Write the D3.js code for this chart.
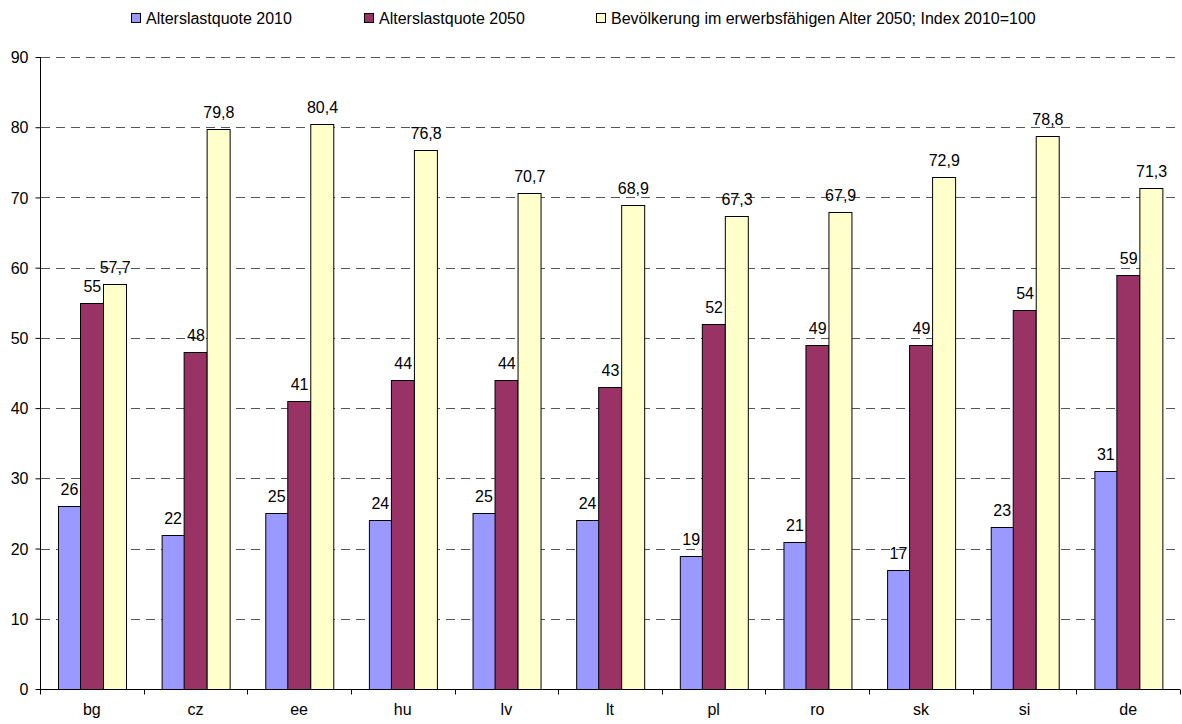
<!DOCTYPE html>
<meta charset="utf-8">
<style>
  body { margin: 0; background: #fff; }
  text { font-family: Arial, "Liberation Sans", sans-serif; fill: #000; }
  .grid line { stroke: #555; stroke-dasharray: 9,6; }
</style>
<svg width="1182" height="724"></svg>
<script src="https://d3js.org/d3.v7.min.js"></script>
<script>

  var categories = ["bg", "cz", "ee", "hu", "lv", "lt", "pl", "ro", "sk", "si", "de"];
  var quote2010 = [26, 22, 25, 24, 25, 24, 19, 21, 17, 23, 31];
  var quote2050 = [55, 48, 41, 44, 44, 43, 52, 49, 49, 54, 59];
  var bevoelkerung2050 = [57.7, 79.8, 80.4, 76.8, 70.7, 68.9, 67.3, 67.9, 72.9, 78.8, 71.3];
  var seriesNames = ["Alterslastquote 2010", "Alterslastquote 2050", "Bevölkerung im erwerbsfähigen Alter 2050; Index 2010=100"];
  var seriesColors = ["#9999ff", "#993366", "#ffffcc"];
  var yTicks = [0, 10, 20, 30, 40, 50, 60, 70, 80, 90];

  var series = [quote2010, quote2050, bevoelkerung2050];

  var svg = d3.select("svg"),
    plotLeft = 40, plotRight = 1180, plotTop = 57, plotBottom = 689;

  var x = d3.scaleBand()
    .domain(categories)
    .range([plotLeft, plotRight]);

  var x1 = d3.scaleBand()
    .domain([0, 1, 2])
    .range([0, x.bandwidth()])
    .paddingOuter(0.765)
    .paddingInner(0);

  var y = d3.scaleLinear()
    .domain([0, 90])
    .range([plotBottom, plotTop]);

  // dashed gridlines
  svg.append("g")
    .attr("class", "grid")
    .selectAll("line")
    .data(yTicks.filter(function (d) { return d > 0; }))
    .enter().append("line")
    .attr("x1", plotLeft + 1).attr("x2", plotRight)
    .attr("y1", function (d) { return Math.round(y(d)) + 0.5; })
    .attr("y2", function (d) { return Math.round(y(d)) + 0.5; });

  // bars
  var fmt = function (v) { return String(v).replace(".", ","); };

  var groups = svg.append("g").selectAll("g")
    .data(categories)
    .enter().append("g")
    .attr("transform", function (d) { return "translate(" + x(d) + ",0)"; });

  groups.each(function (cat, i) {
    var g = d3.select(this);
    series.forEach(function (s, k) {
      var v = s[i];
      g.append("rect")
        .attr("x", Math.round(x1(k)) + 0.5)
        .attr("y", Math.round(y(v)) + 0.5)
        .attr("width", Math.round(x1.bandwidth()))
        .attr("height", Math.round(y(0)) - Math.round(y(v)))
        .attr("fill", seriesColors[k])
        .attr("stroke", "#000")
        .attr("stroke-width", 1);
      g.append("text")
        .attr("x", x1(k) + x1.bandwidth() / 2 + 0.5)
        .attr("y", y(v) - 11)
        .attr("text-anchor", "middle")
        .style("font-size", "16px")
        .text(fmt(v));
    });
  });

  // y axis
  var yAxis = svg.append("g")
    .attr("transform", "translate(" + (plotLeft + 0.5) + ",0)")
    .call(d3.axisLeft(y).tickValues(yTicks).tickSize(5).tickPadding(7));
  yAxis.selectAll("text").style("font-size", "16px").attr("dy", "0.35em");
  yAxis.selectAll("line,path").attr("stroke", "#000");
  yAxis.select(".domain").attr("d", "M0," + plotTop + "V" + plotBottom);

  // x axis
  var xAxis = svg.append("g")
    .attr("transform", "translate(0," + (plotBottom + 0.5) + ")");
  xAxis.append("line")
    .attr("x1", plotLeft).attr("x2", plotRight)
    .attr("stroke", "#000");
  xAxis.selectAll(".tk")
    .data(categories.map(function (d) { return x(d); }).concat([plotRight]))
    .enter().append("line")
    .attr("class", "tk")
    .attr("x1", function (d) { return Math.round(d) + 0.5; })
    .attr("x2", function (d) { return Math.round(d) + 0.5; })
    .attr("y1", 0).attr("y2", 5)
    .attr("stroke", "#000");
  xAxis.selectAll(".lbl")
    .data(categories)
    .enter().append("text")
    .attr("class", "lbl")
    .attr("x", function (d) { return x(d) + x.bandwidth() / 2; })
    .attr("y", 25)
    .attr("text-anchor", "middle")
    .style("font-size", "16px")
    .text(function (d) { return d; });

  // legend
  var legendX = [131, 364, 596];
  var legend = svg.append("g").selectAll("g")
    .data(seriesNames)
    .enter().append("g")
    .attr("transform", function (d, i) { return "translate(" + legendX[i] + ",13)"; });
  legend.append("rect")
    .attr("x", 0.5).attr("y", 0.5)
    .attr("width", 9).attr("height", 9)
    .attr("fill", function (d, i) { return seriesColors[i]; })
    .attr("stroke", "#000");
  legend.append("text")
    .attr("x", 15).attr("y", 11)
    .style("font-size", "16px")
    .text(function (d) { return d; });

</script>
